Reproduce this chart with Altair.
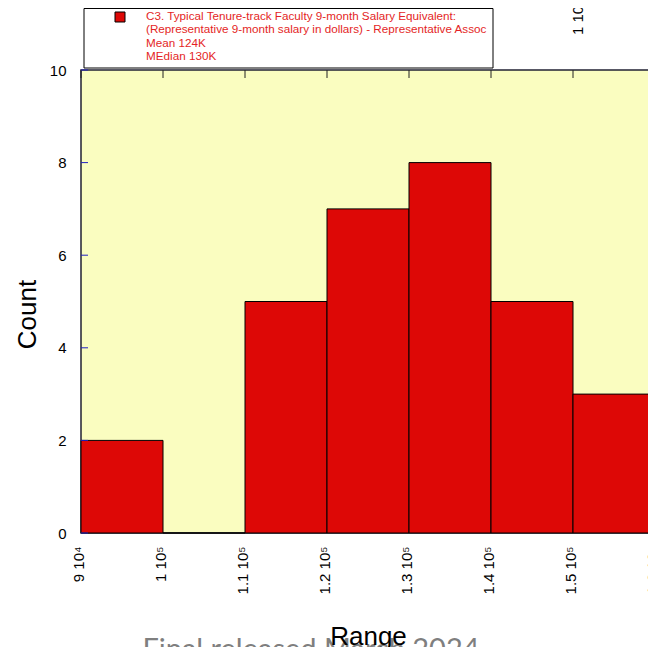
import json
import altair as alt
import pandas as pd

# ---- data ----
bin_start = [90000, 100000, 110000, 120000, 130000, 140000, 150000]
bin_end = [100000, 110000, 120000, 130000, 140000, 150000, 160000]
counts = [2, 0, 5, 7, 8, 5, 3]
x_ticks = [90000, 100000, 110000, 120000, 130000, 140000, 150000, 160000]
x_tick_labels = ["9 10⁴", "1 10⁵", "1.1 10⁵", "1.2 10⁵", "1.3 10⁵", "1.4 10⁵", "1.5 10⁵", "1.6 10⁵"]
y_ticks = [0, 2, 4, 6, 8, 10]
legend_lines = [
    "C3. Typical Tenure-track Faculty 9-month Salary Equivalent:",
    "(Representative 9-month salary in dollars) - Representative Assoc",
    "Mean 124K",
    "MEdian 130K",
]
x_title = "Range"
y_title = "Count"
remnant_label = "1 10⁵"
footer_text = "Final released March 2024"

W, H = 574, 463
FONT = "Liberation Sans"
RED = "#dd0806"

bars_df = pd.DataFrame({"start": bin_start, "end": bin_end, "count": counts})
xt_df = pd.DataFrame({"start": x_ticks})
yt_df = pd.DataFrame({"count": y_ticks})
one = pd.DataFrame({"a": [0]})

xscale = alt.Scale(domain=[x_ticks[0], x_ticks[-1]], nice=False, zero=False)
yscale = alt.Scale(domain=[y_ticks[0], y_ticks[-1]], nice=False, zero=True)

label_expr = json.dumps(x_tick_labels, ensure_ascii=False) + "[round((datum.value - 90000) / 10000)]"

x_axis = alt.Axis(
    values=x_ticks, labelExpr=label_expr, labelAngle=270, labelFontSize=15,
    labelFont=FONT, labelColor="black", labelPadding=13, labelOffset=-3,
    ticks=False, domain=False,
    grid=False, labelOverlap=False, labelFlush=False, labelBound=False,
    title=x_title, titleFont=FONT, titleFontSize=26, titleFontWeight="normal",
    titleColor="black", titleX=W / 2, titleY=111, titleAlign="center",
    titleBaseline="alphabetic", zindex=1,
)
y_axis = alt.Axis(
    values=y_ticks, labelFontSize=15, labelFont=FONT, labelColor="black",
    labelPadding=15, ticks=False, domain=False, grid=False,
    title=y_title, titleFont=FONT, titleFontSize=26, titleFontWeight="normal",
    titleColor="black", titleAngle=270, titleX=-46, titleY=244,
    titleAlign="center", titleBaseline="alphabetic",
)

bars = alt.Chart(bars_df).mark_rect(fill=RED, stroke="black", strokeWidth=1).encode(
    x=alt.X("start:Q", scale=xscale, axis=x_axis),
    x2="end:Q",
    y=alt.Y("count:Q", scale=yscale, axis=y_axis),
    y2=alt.datum(0),
)

top_ticks = alt.Chart(xt_df).mark_rule(color="#222222", strokeWidth=1).encode(
    x=alt.X("start:Q", scale=xscale, axis=x_axis),
    y=alt.value(0), y2=alt.value(8),
)
left_ticks = alt.Chart(yt_df).mark_rule(color="#2020c0", strokeWidth=1).encode(
    y=alt.Y("count:Q", scale=yscale, axis=y_axis),
    x=alt.value(0), x2=alt.value(7),
)
right_ticks = alt.Chart(yt_df).mark_rule(color="#2020c0", strokeWidth=1).encode(
    y=alt.Y("count:Q", scale=yscale, axis=y_axis),
    x=alt.value(W - 7), x2=alt.value(W),
)

legend_box = alt.Chart(one).mark_rect(fill="white", stroke="black", strokeWidth=1).encode(
    x=alt.value(3), x2=alt.value(412), y=alt.value(-61.5), y2=alt.value(-2),
)
legend_sym = alt.Chart(one).mark_rect(fill=RED, stroke="black", strokeWidth=1).encode(
    x=alt.value(34), x2=alt.value(44), y=alt.value(-58), y2=alt.value(-48),
)
legend_y = [-50, -36.7, -23.3, -10]
legend_texts = [
    alt.Chart(one).mark_text(
        align="left", baseline="alphabetic", font=FONT, fontSize=11.7, color="#e41f26"
    ).encode(x=alt.value(65), y=alt.value(yy), text=alt.value(line))
    for line, yy in zip(legend_lines, legend_y)
]

remnant = alt.Chart(one).mark_text(
    align="left", baseline="middle", angle=270, font=FONT, fontSize=15, color="black"
).encode(x=alt.value(497), y=alt.value(-35), text=alt.value(remnant_label))

footer = alt.Chart(one).mark_text(
    align="center", baseline="alphabetic", font="Lato", fontSize=29, color="#7f7f7f"
).encode(x=alt.value(230), y=alt.value(589), text=alt.value(footer_text))

chart = alt.layer(
    bars, top_ticks, left_ticks, right_ticks, footer,
    legend_box, legend_sym, *legend_texts, remnant,
).properties(
    width=W, height=H,
    autosize=alt.AutoSizeParams(type="none"),
    padding={"left": 73, "top": 62, "right": -7, "bottom": 114},
).configure_view(
    fill="#fafdc0", stroke="#222233", strokeWidth=1.5,
)

chart.save("out.html", embed_options={"renderer": "svg", "actions": False})
